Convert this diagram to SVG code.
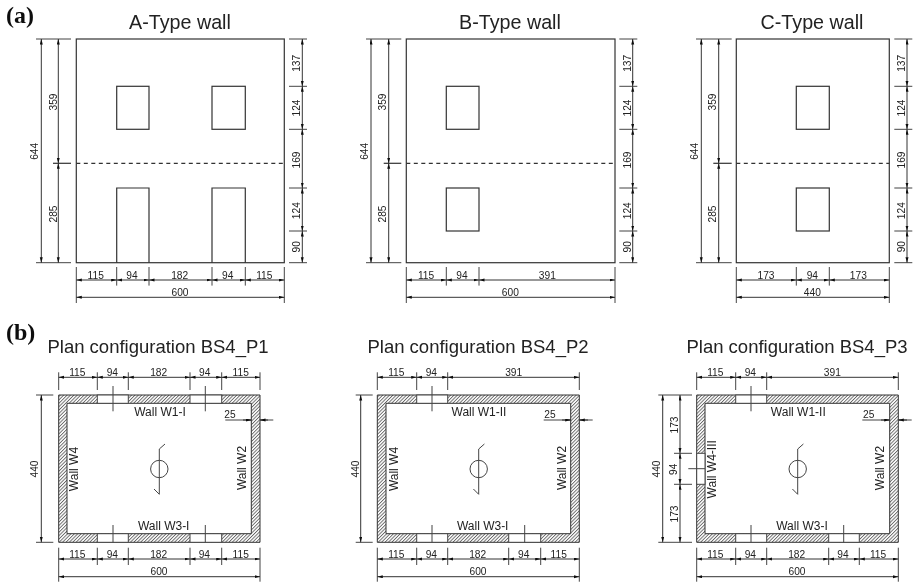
<svg xmlns="http://www.w3.org/2000/svg" width="914" height="584" viewBox="0 0 914 584">
<style>
text{font-family:"Liberation Sans",Arial,sans-serif;fill:#222;text-anchor:middle}
.d{font-size:10.2px}
.w{font-size:12px}
.t{font-size:19.7px}
.p{font-size:18.5px}
.l{font-family:"Liberation Serif","Times New Roman",serif;font-size:24px;font-weight:bold;fill:#111;text-anchor:start}
.o{fill:none;stroke:#333;stroke-width:1.2}
.e{fill:none;stroke:#444;stroke-width:1}
.a{fill:none;stroke:#333;stroke-width:1;marker-start:url(#ah);marker-end:url(#ah)}
.h{fill:url(#hatch);stroke:#333;stroke-width:1;fill-rule:evenodd}
.g{fill:#fff;stroke:#444;stroke-width:1}
</style>
<defs>
<marker id="ah" markerUnits="userSpaceOnUse" markerWidth="6" markerHeight="4" refX="5.5" refY="1.5" orient="auto-start-reverse"><path d="M0 0L5.5 1.5L0 3z" fill="#111"/></marker>
<pattern id="hatch" patternUnits="userSpaceOnUse" width="2.4" height="2.4" patternTransform="rotate(45)"><rect width="2.4" height="2.4" fill="#fff"/><rect width=".9" height="2.4" fill="#666"/></pattern>
<filter id="soft" x="0" y="0" width="100%" height="100%"><feGaussianBlur stdDeviation="0.3"/></filter>
</defs>
<rect width="914" height="584" fill="#fff"/>
<g filter="url(#soft)">
<text class="l" x="6" y="22.7">(a)</text>
<text class="l" x="6" y="340">(b)</text>
<text class="t" x="180" y="29">A-Type wall</text>
<text class="t" x="510" y="29">B-Type wall</text>
<text class="t" x="812" y="29">C-Type wall</text>
<text class="p" x="158" y="352.7">Plan configuration BS4_P1</text>
<text class="p" x="478" y="352.7">Plan configuration BS4_P2</text>
<text class="p" x="797" y="352.7">Plan configuration BS4_P3</text>

<g id="wall-a">
<rect class="o" x="76.3" y="39" width="208" height="223.7"/>
<rect class="o" x="116.7" y="86.3" width="32.3" height="43"/>
<rect class="o" x="212" y="86.3" width="33.3" height="43"/>
<path class="o" d="M116.7 262.7V188H149V262.7M212 262.7V188H245.3V262.7"/>
<path class="o" d="M53 163.3H71"/>
<path class="o" stroke-dasharray="4 3.5" d="M76.3 163.3H284.3"/>
</g>
<g id="wall-b">
<rect class="o" x="406.3" y="39" width="208.7" height="223.7"/>
<rect class="o" x="446.3" y="86.3" width="32.7" height="43"/>
<rect class="o" x="446.3" y="188" width="32.7" height="43"/>
<path class="o" d="M383.7 163.3H401.3"/>
<path class="o" stroke-dasharray="4 3.5" d="M406.3 163.3H615"/>
</g>
<g id="wall-c">
<rect class="o" x="736.3" y="39" width="153" height="223.7"/>
<rect class="o" x="796.3" y="86.3" width="33" height="43"/>
<rect class="o" x="796.3" y="188" width="33" height="43"/>
<path class="o" d="M713.3 163.3H731.7"/>
<path class="o" stroke-dasharray="4 3.5" d="M736.3 163.3H889.3"/>
</g>

<g id="plan-p1">
<path class="h" d="M58.7 395H260V542.3H58.7ZM67 403.3V533.7H251.3V403.3Z"/>
<rect class="g" x="97.3" y="395" width="31" height="8.3"/>
<rect class="g" x="190" y="395" width="31.7" height="8.3"/>
<rect class="g" x="97.3" y="533.7" width="31" height="8.6"/>
<rect class="g" x="190" y="533.7" width="31.7" height="8.6"/>
<circle class="e" cx="159.3" cy="469" r="8.7"/>
<path class="e" d="M159.3 494.3V449L165 444M159.3 494.3L154 489"/>
<text class="w" x="160" y="416">Wall W1-I</text>
<text class="w" x="163.7" y="530">Wall W3-I</text>
<text class="w" transform="rotate(-90 78 469)" x="78" y="469">Wall W4</text>
<text class="w" transform="rotate(-90 245.7 468)" x="245.7" y="468">Wall W2</text>
</g>
<g id="plan-p2">
<path class="h" d="M377.3 395H579.3V542.3H377.3ZM386 403.3V533.7H570.7V403.3Z"/>
<rect class="g" x="416.7" y="395" width="31" height="8.3"/>
<rect class="g" x="416.7" y="533.7" width="31" height="8.6"/>
<rect class="g" x="508.7" y="533.7" width="32" height="8.6"/>
<circle class="e" cx="478.7" cy="469" r="8.7"/>
<path class="e" d="M478.7 494.3V449L484.4 444M478.7 494.3L473.4 489"/>
<text class="w" x="479" y="416">Wall W1-II</text>
<text class="w" x="482.7" y="530">Wall W3-I</text>
<text class="w" transform="rotate(-90 397.7 469)" x="397.7" y="469">Wall W4</text>
<text class="w" transform="rotate(-90 565.7 468)" x="565.7" y="468">Wall W2</text>
</g>
<g id="plan-p3">
<path class="h" d="M696.7 395H898.3V542.3H696.7ZM705 403.3V533.7H889.7V403.3Z"/>
<rect class="g" x="735.7" y="395" width="31" height="8.3"/>
<rect class="g" x="735.7" y="533.7" width="31" height="8.6"/>
<rect class="g" x="828.7" y="533.7" width="30.6" height="8.6"/>
<rect class="g" x="696.7" y="453.3" width="8.3" height="31"/>
<circle class="e" cx="797.7" cy="469" r="8.7"/>
<path class="e" d="M797.7 494.3V449L803.4 444M797.7 494.3L792.4 489"/>
<text class="w" x="798.3" y="416">Wall W1-II</text>
<text class="w" x="802" y="530">Wall W3-I</text>
<text class="w" transform="rotate(-90 716 469.3)" x="716" y="469.3">Wall W4-III</text>
<text class="w" transform="rotate(-90 884.3 468)" x="884.3" y="468">Wall W2</text>
</g>

<g id="connectors">
<path class="e" d="M36 39H71M36 262.7H71M289 39H307M289 86.3H307M289 129.3H307M289 188H307M289 231H307M289 262.7H307"/>
<path class="e" d="M76.3 267V303M116.7 267V285.6M149 267V285.6M212 267V285.6M245.3 267V285.6M284.3 267V303"/>
<path class="a" d="M41.3 39V262.7"/><path class="a" d="M58.3 39V163.3"/><path class="a" d="M58.3 163.3V262.7"/>
<path class="a" d="M302.3 39V86.3"/><path class="a" d="M302.3 86.3V129.3"/><path class="a" d="M302.3 129.3V188"/><path class="a" d="M302.3 188V231"/><path class="a" d="M302.3 231V262.7"/>
<path class="a" d="M76.3 280H116.7"/><path class="a" d="M116.7 280H149"/><path class="a" d="M149 280H212"/><path class="a" d="M212 280H245.3"/><path class="a" d="M245.3 280H284.3"/>
<path class="a" d="M76.3 297.3H284.3"/>
<path class="e" d="M366 39H401.3M366 262.7H401.3M619.3 39H637.3M619.3 86.3H637.3M619.3 129.3H637.3M619.3 188H637.3M619.3 231H637.3M619.3 262.7H637.3"/>
<path class="e" d="M406.3 267V303M446.3 267V285.6M479 267V285.6M615 267V303"/>
<path class="a" d="M371 39V262.7"/><path class="a" d="M388.7 39V163.3"/><path class="a" d="M388.7 163.3V262.7"/>
<path class="a" d="M632.7 39V86.3"/><path class="a" d="M632.7 86.3V129.3"/><path class="a" d="M632.7 129.3V188"/><path class="a" d="M632.7 188V231"/><path class="a" d="M632.7 231V262.7"/>
<path class="a" d="M406.3 280H446.3"/><path class="a" d="M446.3 280H479"/><path class="a" d="M479 280H615"/>
<path class="a" d="M406.3 297.3H615"/>
<path class="e" d="M696 39H731.7M696 262.7H731.7M894.3 39H912.3M894.3 86.3H912.3M894.3 129.3H912.3M894.3 188H912.3M894.3 231H912.3M894.3 262.7H912.3"/>
<path class="e" d="M736.3 267V303M796.3 267V285.6M829.3 267V285.6M889.3 267V303"/>
<path class="a" d="M701.3 39V262.7"/><path class="a" d="M718.7 39V163.3"/><path class="a" d="M718.7 163.3V262.7"/>
<path class="a" d="M907 39V86.3"/><path class="a" d="M907 86.3V129.3"/><path class="a" d="M907 129.3V188"/><path class="a" d="M907 188V231"/><path class="a" d="M907 231V262.7"/>
<path class="a" d="M736.3 280H796.3"/><path class="a" d="M796.3 280H829.3"/><path class="a" d="M829.3 280H889.3"/>
<path class="a" d="M736.3 297.3H889.3"/>
<path class="e" d="M36 395H53.3M36 542.3H53.3M58.7 372.3V390M97.3 372.3V390M128.3 372.3V390M190 372.3V390M221.7 372.3V390M260 372.3V390"/>
<path class="e" d="M58.7 547.7V581.7M97.3 547.7V565M128.3 547.7V565M190 547.7V565M221.7 547.7V565M260 547.7V581.7"/>
<path class="e" d="M113 386V411.3M205.3 386V411.3M113 525V542.3M205.3 525V542.3M225.3 420H251.3M260 420H273.3"/>
<path class="a" d="M41.3 395V542.3"/>
<path class="a" d="M58.7 377.3H97.3"/><path class="a" d="M97.3 377.3H128.3"/><path class="a" d="M128.3 377.3H190"/><path class="a" d="M190 377.3H221.7"/><path class="a" d="M221.7 377.3H260"/>
<path class="a" d="M58.7 559H97.3"/><path class="a" d="M97.3 559H128.3"/><path class="a" d="M128.3 559H190"/><path class="a" d="M190 559H221.7"/><path class="a" d="M221.7 559H260"/>
<path class="a" d="M58.7 576.7H260"/>
<path class="a" d="M243 420H251.3" style="marker-start:none"/><path class="a" d="M268 420H260" style="marker-start:none"/>
<path class="e" d="M355.7 395H372.7M355.7 542.3H372.7M377.3 372.3V390M416.7 372.3V390M447.7 372.3V390M579.3 372.3V390"/>
<path class="e" d="M377.3 547.7V581.7M416.7 547.7V565M447.7 547.7V565M508.7 547.7V565M540.7 547.7V565M579.3 547.7V581.7"/>
<path class="e" d="M432 386V411.3M432 525V542.3M524.7 525V542.3M543.7 420H570.7M579.3 420H592.7"/>
<path class="a" d="M360.7 395V542.3"/>
<path class="a" d="M377.3 377.3H416.7"/><path class="a" d="M416.7 377.3H447.7"/><path class="a" d="M447.7 377.3H579.3"/>
<path class="a" d="M377.3 559H416.7"/><path class="a" d="M416.7 559H447.7"/><path class="a" d="M447.7 559H508.7"/><path class="a" d="M508.7 559H540.7"/><path class="a" d="M540.7 559H579.3"/>
<path class="a" d="M377.3 576.7H579.3"/>
<path class="a" d="M562 420H570.7" style="marker-start:none"/><path class="a" d="M588 420H579.3" style="marker-start:none"/>
<path class="e" d="M658.3 395H692M658.3 542.3H692M674 453.3H692M674 484.3H692M688.3 468.7H705"/>
<path class="e" d="M696.7 372.3V390M735.7 372.3V390M766.7 372.3V390M898.3 372.3V390"/>
<path class="e" d="M696.7 547.7V581.7M735.7 547.7V565M766.7 547.7V565M828.7 547.7V565M859.3 547.7V565M898.3 547.7V581.7"/>
<path class="e" d="M751 386V411.3M751 525V542.3M843.7 525V542.3M862.3 420H889.7M898.3 420H911.7"/>
<path class="a" d="M662.7 395V542.3"/>
<path class="a" d="M680 395V453.3"/><path class="a" d="M680 453.3V484.3"/><path class="a" d="M680 484.3V542.3"/>
<path class="a" d="M696.7 377.3H735.7"/><path class="a" d="M735.7 377.3H766.7"/><path class="a" d="M766.7 377.3H898.3"/>
<path class="a" d="M696.7 559H735.7"/><path class="a" d="M735.7 559H766.7"/><path class="a" d="M766.7 559H828.7"/><path class="a" d="M828.7 559H859.3"/><path class="a" d="M859.3 559H898.3"/>
<path class="a" d="M696.7 576.7H898.3"/>
<path class="a" d="M881 420H889.7" style="marker-start:none"/><path class="a" d="M907 420H898.3" style="marker-start:none"/>
</g>

<g id="dimension-labels" class="d">
<text transform="rotate(-90 38.3 151.3)" x="38.3" y="151.3">644</text>
<text transform="rotate(-90 56.7 102)" x="56.7" y="102">359</text>
<text transform="rotate(-90 56.7 214)" x="56.7" y="214">285</text>
<text transform="rotate(-90 300.3 63.3)" x="300.3" y="63.3">137</text>
<text transform="rotate(-90 300.3 108)" x="300.3" y="108">124</text>
<text transform="rotate(-90 300.3 160)" x="300.3" y="160">169</text>
<text transform="rotate(-90 300.3 210.7)" x="300.3" y="210.7">124</text>
<text transform="rotate(-90 300.3 246.7)" x="300.3" y="246.7">90</text>
<text x="95.7" y="278.7">115</text><text x="132" y="278.7">94</text><text x="179.7" y="278.7">182</text><text x="227.7" y="278.7">94</text><text x="264.3" y="278.7">115</text><text x="180" y="296">600</text>

<text transform="rotate(-90 368.3 151.3)" x="368.3" y="151.3">644</text>
<text transform="rotate(-90 386 102)" x="386" y="102">359</text>
<text transform="rotate(-90 386 214)" x="386" y="214">285</text>
<text transform="rotate(-90 630.7 63.3)" x="630.7" y="63.3">137</text>
<text transform="rotate(-90 630.7 108)" x="630.7" y="108">124</text>
<text transform="rotate(-90 630.7 160)" x="630.7" y="160">169</text>
<text transform="rotate(-90 630.7 210.7)" x="630.7" y="210.7">124</text>
<text transform="rotate(-90 630.7 246.7)" x="630.7" y="246.7">90</text>
<text x="426" y="278.7">115</text><text x="462" y="278.7">94</text><text x="547.3" y="278.7">391</text><text x="510.3" y="296">600</text>

<text transform="rotate(-90 698.3 151.3)" x="698.3" y="151.3">644</text>
<text transform="rotate(-90 716 102)" x="716" y="102">359</text>
<text transform="rotate(-90 716 214)" x="716" y="214">285</text>
<text transform="rotate(-90 905 63.3)" x="905" y="63.3">137</text>
<text transform="rotate(-90 905 108)" x="905" y="108">124</text>
<text transform="rotate(-90 905 160)" x="905" y="160">169</text>
<text transform="rotate(-90 905 210.7)" x="905" y="210.7">124</text>
<text transform="rotate(-90 905 246.7)" x="905" y="246.7">90</text>
<text x="766" y="278.7">173</text><text x="812.3" y="278.7">94</text><text x="858.3" y="278.7">173</text><text x="812.3" y="296">440</text>

<text transform="rotate(-90 38.3 469)" x="38.3" y="469">440</text>
<text x="77.3" y="375.7">115</text><text x="112.3" y="375.7">94</text><text x="158.7" y="375.7">182</text><text x="204.7" y="375.7">94</text><text x="240.7" y="375.7">115</text>
<text x="77.3" y="557.7">115</text><text x="112.3" y="557.7">94</text><text x="158.7" y="557.7">182</text><text x="204.3" y="557.7">94</text><text x="240.7" y="557.7">115</text><text x="159" y="575">600</text>
<text x="230" y="418">25</text>

<text transform="rotate(-90 359 469)" x="359" y="469">440</text>
<text x="396.3" y="375.7">115</text><text x="431.3" y="375.7">94</text><text x="513.7" y="375.7">391</text>
<text x="396.3" y="557.7">115</text><text x="431.3" y="557.7">94</text><text x="477.7" y="557.7">182</text><text x="523.7" y="557.7">94</text><text x="558.7" y="557.7">115</text><text x="478" y="575">600</text>
<text x="550" y="418">25</text>

<text transform="rotate(-90 660 469)" x="660" y="469">440</text>
<text transform="rotate(-90 678 425)" x="678" y="425">173</text>
<text transform="rotate(-90 677.3 469.3)" x="677.3" y="469.3">94</text>
<text transform="rotate(-90 678 514)" x="678" y="514">173</text>
<text x="715.3" y="375.7">115</text><text x="750.3" y="375.7">94</text><text x="832.3" y="375.7">391</text>
<text x="715.3" y="557.7">115</text><text x="750.3" y="557.7">94</text><text x="796.7" y="557.7">182</text><text x="843" y="557.7">94</text><text x="878" y="557.7">115</text><text x="797" y="575">600</text>
<text x="868.7" y="418">25</text>
</g>
</g>
</svg>
